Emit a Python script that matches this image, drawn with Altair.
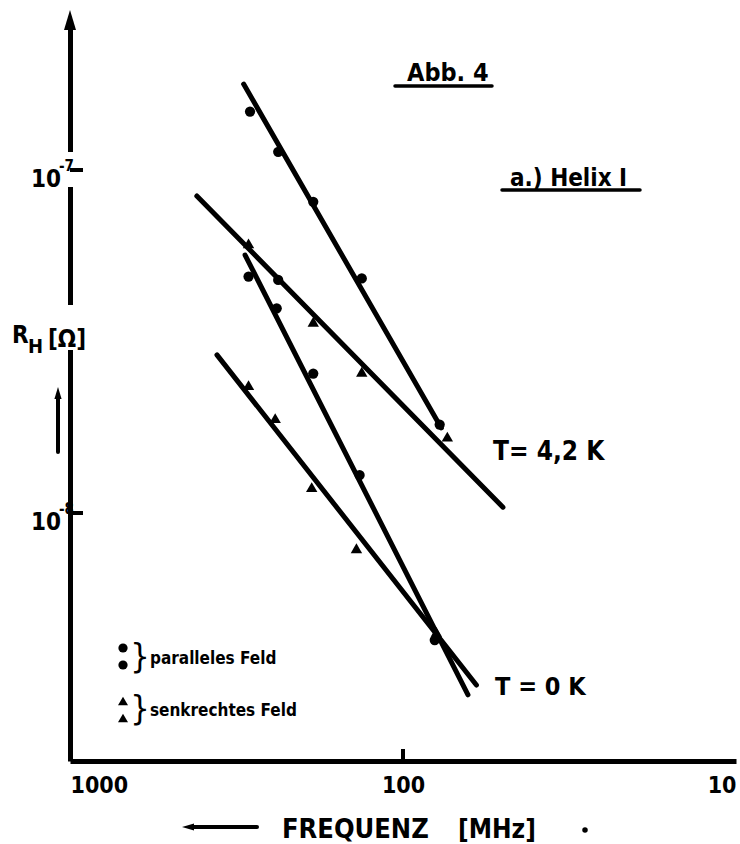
import altair as alt
import pandas as pd

# ---------------- data ----------------
# fitted straight lines: start / end points (frequency in MHz, R_H in Ohm)
line_names = ["4,2 K parallel", "4,2 K senkrecht", "0 K parallel", "0 K senkrecht"]
line_f_start = [301, 416, 298, 362]
line_r_start = [1.78e-7, 8.4e-8, 5.65e-8, 2.89e-8]
line_f_end = [76.7, 50.1, 63.8, 60.2]
line_r_end = [1.77e-8, 1.04e-8, 2.95e-9, 3.15e-9]

# measured points, parallel field (filled circles)
par_f = [288, 237, 186, 133, 77.6, 291, 239.5, 186, 135, 80.3, 237]
par_r = [1.48e-7, 1.13e-7, 8.08e-8, 4.83e-8, 1.81e-8,
         4.89e-8, 3.95e-8, 2.55e-8, 1.29e-8, 4.26e-9, 4.78e-8]

# measured points, perpendicular field (filled triangles)
perp_f = [291, 186, 133, 73.6, 291, 242, 188, 138, 79.4]
perp_r = [6.11e-8, 3.61e-8, 2.58e-8, 1.67e-8,
          2.36e-8, 1.89e-8, 1.19e-8, 7.89e-9, 4.50e-9]

x_ticks = [1000, 100, 10]
y_ticks = [1e-7, 1e-8]
y_tick_base = ["10", "10"]
y_tick_exp = ["-7", "-8"]

# ---------------- layout ----------------
W, H = 666, 736
FONT = "Liberation Sans Narrow, DejaVu Sans Condensed, Liberation Sans, sans-serif"

xscale = alt.Scale(type="log", domain=[10, 1000], reverse=True, nice=False)
yscale = alt.Scale(type="log", domain=[1.892e-9, 2.647e-7], nice=False)

xaxis = alt.Axis(values=x_ticks, format="d", title=None, grid=False, ticks=False,
                 domainWidth=5, domainColor="black", labelFont=FONT, labelFontSize=23,
                 labelFontWeight="bold", labelColor="black", labelFlush=True,
                 labelPadding=13, labelBaseline="top")
yaxis = alt.Axis(labels=False, ticks=False, title=None, grid=False,
                 domainWidth=5, domainColor="black")

X = alt.X("f:Q", scale=xscale, axis=xaxis)
Y = alt.Y("r:Q", scale=yscale, axis=yaxis)

rows = []
for n, f0, r0, f1, r1 in zip(line_names, line_f_start, line_r_start, line_f_end, line_r_end):
    rows.append({"series": n, "f": f0, "r": r0, "k": 0})
    rows.append({"series": n, "f": f1, "r": r1, "k": 1})
lines_df = pd.DataFrame(rows)
par_df = pd.DataFrame({"f": par_f, "r": par_r})
perp_df = pd.DataFrame({"f": perp_f, "r": perp_r})
ytick_df = pd.DataFrame({"r": y_ticks, "base": y_tick_base, "exp": y_tick_exp})

one = alt.Data(values=[{"a": 1}])


def txt(text, x, y, size, align="left", baseline="alphabetic", font=FONT, weight="bold"):
    return alt.Chart(one).mark_text(text=text, align=align, baseline=baseline,
                                    fontSize=size, font=font, fontWeight=weight,
                                    color="black").encode(x=alt.value(x), y=alt.value(y))


def seg(x1, y1, x2, y2, w):
    return alt.Chart(one).mark_rule(color="black", strokeWidth=w, strokeCap="round").encode(
        x=alt.value(x1), y=alt.value(y1), x2=alt.value(x2), y2=alt.value(y2))


def sym(shape, x, y, size):
    return alt.Chart(one).mark_point(shape=shape, filled=True, color="black", opacity=1,
                                     size=size, strokeWidth=0).encode(x=alt.value(x), y=alt.value(y))


def blank(x1, y1, x2, y2):
    return alt.Chart(one).mark_rect(color="white").encode(
        x=alt.value(x1), y=alt.value(y1), x2=alt.value(x2), y2=alt.value(y2))


UP = "M0,-2L0.6,0L-0.6,0Z"
LEFT = "M-2,0L0,-0.6L0,0.6Z"

lines = alt.Chart(lines_df).mark_line(color="black", strokeWidth=5, strokeCap="round").encode(
    x=X, y=Y, detail="series:N", order="k:Q")
pts_par = alt.Chart(par_df).mark_point(shape="circle", filled=True, color="black",
                                      opacity=1, size=105).encode(x=X, y=Y)
pts_perp = alt.Chart(perp_df).mark_point(shape="triangle-up", filled=True, color="black",
                                        opacity=1, size=130).encode(x=X, y=Y)

yticks = alt.Chart(ytick_df).mark_rule(color="black", strokeWidth=4).encode(
    y=Y, x=alt.value(0), x2=alt.value(13))
ylab_base = alt.Chart(ytick_df).mark_text(align="right", baseline="alphabetic", dy=17,
                                          fontSize=24, font=FONT, fontWeight="bold",
                                          color="black").encode(y=Y, x=alt.value(-9), text="base:N")
ylab_exp = alt.Chart(ytick_df).mark_text(align="left", baseline="alphabetic", dy=1,
                                         fontSize=15, font=FONT, fontWeight="bold",
                                         color="black").encode(y=Y, x=alt.value(-11), text="exp:N")
xtick100 = alt.Chart(pd.DataFrame({"f": [100]})).mark_rule(color="black", strokeWidth=4).encode(
    x=X, y=alt.value(H - 12), y2=alt.value(H))

layers = [
    # gaps in the vertical axis behind labels
    blank(-6, 127, 6, 162),
    blank(-6, 280, 6, 325),
    lines, pts_par, pts_perp,
    yticks, ylab_base, ylab_exp, xtick100,
    # axis arrow head
    sym(UP, 0, 5, 400),
    # R_H label and small arrow
    txt("R", -58, 318, 24),
    txt("H", -42, 328, 20),
    txt("[Ω]", -22, 322, 24),
    seg(-12, 372, -12, 427, 4),
    sym(UP, -12, 374, 144),
    # titles
    txt("Abb. 4", 337, 56, 25),
    seg(325, 61, 422, 61, 3.5),
    txt("a.) Helix  I", 440, 161, 24),
    seg(432, 165, 570, 165, 3.5),
    txt("T= 4,2 K", 423, 435, 26),
    txt("T = 0 K", 425, 670, 25),
    # x-axis title
    seg(122, 802, 187, 802, 4),
    sym(LEFT, 124, 802, 144),
    txt("FREQUENZ", 212, 813, 27),
    txt("[MHz]", 388, 813, 26),
    sym("circle", 515, 805, 30),
    # legend
    sym("circle", 53, 623, 85),
    sym("circle", 53, 640, 85),
    txt("}", 70, 633, 34, align="center", baseline="middle", weight="normal"),
    txt("paralleles Feld", 80, 639, 17),
    sym("triangle-up", 53, 676, 100),
    sym("triangle-up", 53, 693, 100),
    txt("}", 70, 685, 34, align="center", baseline="middle", weight="normal"),
    txt("senkrechtes Feld", 80, 691, 17),
]

chart = alt.layer(*layers).properties(
    width=W, height=H,
    autosize=alt.AutoSizeParams(type="none"),
    padding={"left": 70, "top": 25, "right": 4, "bottom": 83},
    background="white",
).configure_view(stroke=None)

chart.save("out.html", embed_options={"renderer": "svg", "actions": False})
